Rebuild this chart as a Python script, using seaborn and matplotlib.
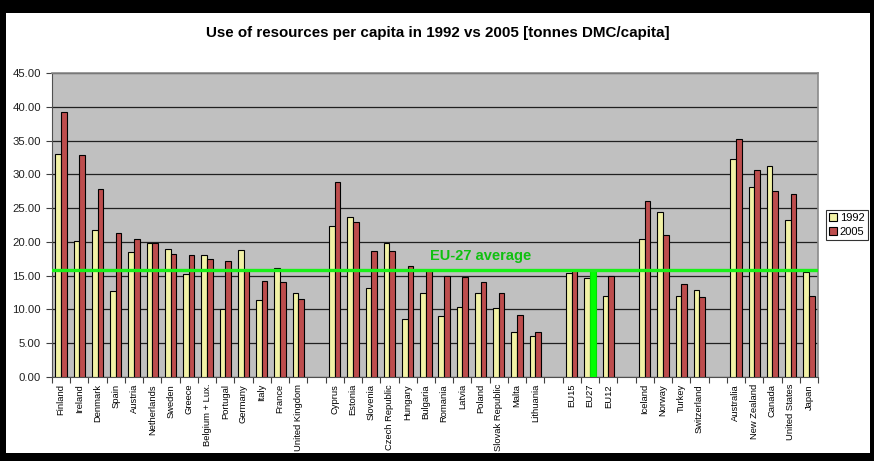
import matplotlib
matplotlib.use("Agg")
import matplotlib.pyplot as plt
import matplotlib.patches as mpatches
from matplotlib.ticker import FixedLocator, FormatStrFormatter
import seaborn as sns
import pandas as pd
import numpy as np

# Category slots along the x axis (blank slots separate the country groups)
categories = [
    "Finland", "Ireland", "Denmark", "Spain", "Austria", "Netherlands", "Sweden",
    "Greece", "Belgium + Lux.", "Portugal", "Germany", "Italy", "France",
    "United Kingdom", " ",
    "Cyprus", "Estonia", "Slovenia", "Czech Republic", "Hungary", "Bulgaria",
    "Romania", "Latvia", "Poland", "Slovak Republic", "Malta", "Lithuania", "  ",
    "EU15", "EU27", "EU12", "   ",
    "Iceland", "Norway", "Turkey", "Switzerland", "    ",
    "Australia", "New Zealand", "Canada", "United States", "Japan",
]

countries = [c for c in categories if c.strip()]

dmc_1992 = [
    33.0, 20.1, 21.8, 12.7, 18.5, 19.9, 18.9, 15.2, 18.1, 10.0, 18.8, 11.4, 16.1, 12.4,
    22.3, 23.7, 13.2, 19.8, 8.6, 12.5, 9.1, 10.4, 12.5, 10.2, 6.6, 6.1,
    15.4, 14.6, 12.0,
    20.5, 24.4, 12.0, 12.9,
    32.2, 28.1, 31.3, 23.3, 15.5,
]
dmc_2005 = [
    39.3, 32.9, 27.9, 21.3, 20.5, 19.8, 18.2, 18.0, 17.5, 17.1, 15.7, 14.2, 14.0, 11.6,
    28.8, 22.9, 18.6, 18.6, 16.5, 15.9, 14.9, 14.8, 14.0, 12.4, 9.2, 6.7,
    15.9, 15.9, 14.9,
    26.0, 21.0, 13.7, 11.9,
    35.2, 30.7, 27.5, 27.1, 12.0,
]
years = ["1992", "2005"]
eu27_average = 15.9

df = pd.DataFrame({
    "country": countries * 2,
    "year": [years[0]] * len(countries) + [years[1]] * len(countries),
    "dmc": dmc_1992 + dmc_2005,
})

W, H = 874, 461
fig = plt.figure(figsize=(W / 100, H / 100), dpi=100, facecolor="black")
fig.patches.append(mpatches.Rectangle((6 / W, 1 - 453 / H), 864 / W, 440 / H,
                                      transform=fig.transFigure, facecolor="white",
                                      edgecolor="none", zorder=-10))

plt.rcParams["font.family"] = ["Liberation Sans", "DejaVu Sans"]

ax = fig.add_axes([52 / W, 1 - 377 / H, (818 - 52) / W, (377 - 73) / H])
ax.set_facecolor("#c0c0c0")

sns.barplot(data=df, x="country", y="dmc", hue="year", order=categories,
            hue_order=years, palette=["#ffff99", "#d03a3a"], width=0.62,
            edgecolor="black", linewidth=0.8, errorbar=None, ax=ax, zorder=3)

# EU27 2005 bar highlighted in green
eu27_pos = categories.index("EU27")
for bar in ax.patches:
    cx = bar.get_x() + bar.get_width() / 2
    if eu27_pos < cx < eu27_pos + 0.5:
        bar.set_facecolor("#00ff00")
        bar.set_edgecolor("#00dd00")

ax.set_xlim(-0.5, len(categories) - 0.5)
ax.set_ylim(0, 45)
ax.yaxis.set_major_locator(FixedLocator(np.arange(0, 46, 5)))
ax.yaxis.set_major_formatter(FormatStrFormatter("%.2f"))
ax.grid(axis="y", color="#202020", linewidth=0.9, zorder=1)
ax.set_axisbelow(True)

ax.set_xticks(range(len(categories)))
ax.set_xticklabels(categories, rotation=90, fontsize=6.75, va="top", ha="center")
ax.tick_params(axis="x", which="major", length=0, pad=5)
ax.set_xticks(np.arange(-0.5, len(categories), 1), minor=True)
ax.tick_params(axis="x", which="minor", length=4, width=0.8, color="#404040")
ax.tick_params(axis="y", length=4, width=0.8, color="#404040", labelsize=8.2, pad=4)
for lbl in ax.get_yticklabels():
    lbl.set_color("#202020")
ax.set_xlabel("")
ax.set_ylabel("")

for side in ["left", "bottom"]:
    ax.spines[side].set_color("#505050")
for side in ["top", "right"]:
    ax.spines[side].set_color("#8a8a8a")
    ax.spines[side].set_linewidth(1.2)

ax.axhline(eu27_average, color="#19f019", linewidth=2.4, zorder=5)
ax.text(categories.index("Latvia") - 1.75, eu27_average + 2.0, "EU-27 average",
        color="#10c010", fontsize=10.5, fontweight="bold", ha="left", va="center",
        zorder=6)

fig.text(438 / W, 1 - 33 / H,
         "Use of resources per capita in 1992 vs 2005 [tonnes DMC/capita]",
         ha="center", va="center", fontsize=10.9, fontweight="bold")

leg = ax.legend(loc="center left", bbox_to_anchor=(826 / W, 1 - 225 / H),
                bbox_transform=fig.transFigure, frameon=True, fancybox=False,
                fontsize=8.0, handlelength=0.7, handleheight=0.7,
                handletextpad=0.25, borderpad=0.3, labelspacing=0.35,
                borderaxespad=0)
leg.get_frame().set_edgecolor("black")
leg.get_frame().set_linewidth(0.8)
for h in leg.legend_handles:
    h.set_edgecolor("black")
    h.set_linewidth(0.8)

fig.savefig("out.png", dpi=100, facecolor="black")
